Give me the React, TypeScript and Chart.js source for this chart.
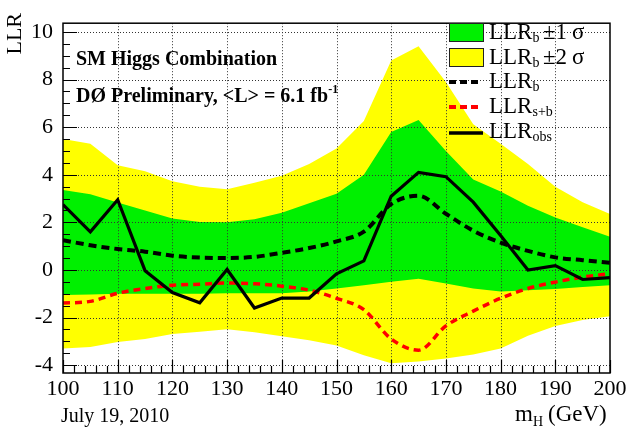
import { useEffect, useRef } from 'react';
import { Chart, registerables } from 'chart.js';

Chart.register(...registerables);

// Higgs boson mass hypotheses (GeV)
const masses = [100, 105, 110, 115, 120, 125, 130, 135, 140, 145, 150, 155, 160, 165, 170, 175, 180, 185, 190, 195, 200];

// Log-likelihood ratios
const llrObs = [2.75, 1.6, 2.95, -0.03, -0.95, -1.38, 0.02, -1.6, -1.18, -1.18, -0.16, 0.38, 3.1, 4.1, 3.92, 2.85, 1.45, 0.0, 0.18, -0.4, -0.32];
const llrB = [1.25, 1.04, 0.88, 0.77, 0.6, 0.52, 0.5, 0.55, 0.72, 0.92, 1.2, 1.61, 2.77, 3.12, 2.36, 1.65, 1.15, 0.8, 0.53, 0.41, 0.3];
const llrSB = [-1.39, -1.32, -0.98, -0.78, -0.64, -0.6, -0.55, -0.58, -0.68, -0.85, -1.19, -1.67, -2.9, -3.37, -2.35, -1.73, -1.19, -0.78, -0.51, -0.3, -0.16];

// Background-only expectation bands
const bPlus2 = [5.5, 5.3, 4.4, 4.15, 3.73, 3.5, 3.39, 3.66, 3.96, 4.45, 5.1, 6.26, 8.8, 9.4, 7.9, 6.12, 5.3, 4.45, 3.5, 2.85, 2.35];
const bPlus1 = [3.36, 3.18, 2.84, 2.5, 2.16, 2.02, 2.0, 2.13, 2.4, 2.8, 3.2, 4.0, 5.8, 6.3, 5.0, 3.8, 3.3, 2.7, 2.2, 1.8, 1.4];
const bMinus1 = [-1.05, -1.03, -1.0, -1.0, -1.0, -1.0, -0.98, -0.98, -0.98, -0.9, -0.78, -0.64, -0.5, -0.37, -0.57, -0.78, -0.9, -0.85, -0.8, -0.72, -0.64];
const bMinus2 = [-3.3, -3.24, -3.03, -2.9, -2.69, -2.6, -2.49, -2.62, -2.79, -2.95, -3.17, -3.58, -3.92, -3.85, -3.72, -3.55, -3.3, -2.76, -2.35, -2.1, -1.94];

// Axis ranges and tick positions
const xMin = 100;
const xMax = 200;
const yMin = -4.33;
const yMax = 10.37;
const xMajor = [100, 110, 120, 130, 140, 150, 160, 170, 180, 190, 200];
const yMajor = [-4, -2, 0, 2, 4, 6, 8, 10];
const xMinorStep = 2;
const yMinorStep = 0.5;

const SERIF = '"Liberation Serif", "Times New Roman", serif';
const GREEN = '#00f000';
const YELLOW = '#ffff00';
const RED = '#ff0000';

const pts = (ys: number[]) => masses.map((m, i) => ({ x: m, y: ys[i] }));

function subText(
  ctx: CanvasRenderingContext2D,
  main: string,
  sub: string,
  x: number,
  y: number,
  size: number,
  subSize: number,
  subDy: number
) {
  ctx.font = `${size}px ${SERIF}`;
  ctx.fillText(main, x, y);
  const w = ctx.measureText(main).width;
  ctx.font = `${subSize}px ${SERIF}`;
  ctx.fillText(sub, x + w, y + subDy);
  return x + w + ctx.measureText(sub).width;
}

const decorations = {
  id: 'decorations',
  beforeDatasetDraw(chart: any, args: any) {
    // dotted grid sits above the bands but below the curves
    if (args.index !== 4) return;
    const { ctx, chartArea: a, scales } = chart;
    ctx.save();
    ctx.strokeStyle = '#333';
    ctx.lineWidth = 1;
    ctx.setLineDash([1, 2]);
    ctx.beginPath();
    for (const v of xMajor) {
      if (v === xMin || v === xMax) continue;
      const px = Math.round(scales.x.getPixelForValue(v)) + 0.5;
      ctx.moveTo(px, a.top);
      ctx.lineTo(px, a.bottom);
    }
    for (const v of yMajor) {
      const py = Math.round(scales.y.getPixelForValue(v)) + 0.5;
      ctx.moveTo(a.left, py);
      ctx.lineTo(a.right, py);
    }
    ctx.stroke();
    ctx.restore();
  },
  afterDraw(chart: any) {
    const { ctx, chartArea: a, scales } = chart;
    ctx.save();

    // frame
    ctx.strokeStyle = '#000';
    ctx.lineWidth = 1.5;
    ctx.strokeRect(a.left, a.top, a.right - a.left, a.bottom - a.top);

    // inner tick marks
    ctx.lineWidth = 1.2;
    ctx.beginPath();
    for (let v = xMin; v <= xMax + 1e-9; v += xMinorStep) {
      const px = Math.round(scales.x.getPixelForValue(v)) + 0.5;
      const major = xMajor.includes(Math.round(v));
      ctx.moveTo(px, a.bottom);
      ctx.lineTo(px, a.bottom - (major ? 13 : 7));
    }
    for (let v = yMajor[0]; v <= yMajor[yMajor.length - 1] + 1e-9; v += yMinorStep) {
      const py = Math.round(scales.y.getPixelForValue(v)) + 0.5;
      const major = Math.abs(v - Math.round(v)) < 1e-6 && Math.round(v) % 2 === 0;
      ctx.moveTo(a.left, py);
      ctx.lineTo(a.left + (major ? 14 : 7), py);
    }
    ctx.stroke();

    ctx.fillStyle = '#000';
    ctx.textBaseline = 'alphabetic';
    ctx.textAlign = 'left';

    // y-axis title, rotated, aligned to the top of the axis
    ctx.save();
    ctx.translate(21, 13);
    ctx.rotate(-Math.PI / 2);
    ctx.textAlign = 'right';
    ctx.font = `22px ${SERIF}`;
    ctx.fillText('LLR', 0, 0);
    ctx.restore();

    // x-axis title
    ctx.textAlign = 'left';
    const endM = subText(ctx, 'm', 'H', 515, 421, 23, 14, 5);
    ctx.font = `23px ${SERIF}`;
    ctx.fillText('(GeV)', endM + 5, 421);

    // date stamp
    ctx.font = `20px ${SERIF}`;
    ctx.fillText('July 19, 2010', 61, 422);

    // analysis labels
    ctx.font = `bold 20px ${SERIF}`;
    ctx.fillText('SM Higgs Combination', 76, 65);
    const lumi = 'DØ Preliminary, <L> = 6.1 fb';
    ctx.fillText(lumi, 76, 102);
    const lw = ctx.measureText(lumi).width;
    ctx.font = `bold 12px ${SERIF}`;
    ctx.fillText('-1', 76 + lw, 93);

    // legend
    const sx = 449;
    const tx = 489;
    ctx.lineWidth = 1;
    ctx.strokeStyle = '#222';
    ctx.fillStyle = GREEN;
    ctx.fillRect(sx, 23, 34, 18);
    ctx.strokeRect(sx + 0.5, 23.5, 34, 18);
    ctx.fillStyle = YELLOW;
    ctx.fillRect(sx, 48, 34, 18);
    ctx.strokeRect(sx + 0.5, 48.5, 34, 18);

    ctx.lineWidth = 4;
    ctx.setLineDash([7, 4]);
    ctx.strokeStyle = '#000';
    ctx.beginPath();
    ctx.moveTo(sx, 82);
    ctx.lineTo(sx + 29, 82);
    ctx.stroke();
    ctx.strokeStyle = RED;
    ctx.beginPath();
    ctx.moveTo(sx, 107);
    ctx.lineTo(sx + 29, 107);
    ctx.stroke();
    ctx.setLineDash([]);
    ctx.lineWidth = 3.5;
    ctx.strokeStyle = '#000';
    ctx.beginPath();
    ctx.moveTo(sx, 133);
    ctx.lineTo(sx + 34, 133);
    ctx.stroke();

    ctx.fillStyle = '#000';
    const LF = 23;
    subText(ctx, 'LLR', 'b', tx, 39, LF, 14, 3);
    ctx.font = `${LF}px ${SERIF}`;
    ctx.fillText('±1', 543, 39);
    ctx.fillText('σ', 572, 39);
    subText(ctx, 'LLR', 'b', tx, 64, LF, 14, 3);
    ctx.font = `${LF}px ${SERIF}`;
    ctx.fillText('±2', 543, 64);
    ctx.fillText('σ', 572, 64);
    subText(ctx, 'LLR', 'b', tx, 88, LF, 14, 3);
    subText(ctx, 'LLR', 's+b', tx, 113, LF, 14, 3);
    subText(ctx, 'LLR', 'obs', tx, 138, LF, 14, 3);

    ctx.restore();
  },
};

export default function App() {
  const canvasRef = useRef<HTMLCanvasElement | null>(null);

  useEffect(() => {
    const canvas = canvasRef.current;
    if (!canvas) return;
    const band = (data: number[], fill: any, color: string, order: number) => ({
      data: pts(data),
      borderColor: 'transparent',
      borderWidth: 0,
      backgroundColor: color,
      pointRadius: 0,
      tension: 0,
      fill,
      order,
    });
    const chart = new Chart(canvas, {
      type: 'line',
      data: {
        datasets: [
          band(bPlus2, 1, YELLOW, 6),
          band(bMinus2, false, YELLOW, 6),
          band(bPlus1, 3, GREEN, 5),
          band(bMinus1, false, GREEN, 5),
          {
            data: pts(llrB),
            borderColor: '#000',
            borderWidth: 4,
            borderDash: [8, 5],
            pointRadius: 0,
            cubicInterpolationMode: 'monotone',
            fill: false,
            order: 3,
          },
          {
            data: pts(llrSB),
            borderColor: RED,
            borderWidth: 3.5,
            borderDash: [7, 5],
            pointRadius: 0,
            cubicInterpolationMode: 'monotone',
            fill: false,
            order: 2,
          },
          {
            data: pts(llrObs),
            borderColor: '#000',
            borderWidth: 3.2,
            pointRadius: 0,
            tension: 0,
            fill: false,
            order: 1,
          },
        ] as any,
      },
      options: {
        responsive: false,
        animation: false,
        devicePixelRatio: 1,
        layout: { padding: { left: 0, right: 20, top: 13, bottom: 0 } },
        plugins: {
          legend: { display: false },
          tooltip: { enabled: false },
        },
        scales: {
          x: {
            type: 'linear',
            min: xMin,
            max: xMax,
            grid: { display: false, drawTicks: false },
            border: { display: false },
            ticks: {
              stepSize: 10,
              color: '#000',
              padding: 3,
              maxRotation: 0,
              font: { family: SERIF, size: 22 },
            },
            afterFit: (s: any) => {
              s.height = 54;
            },
          },
          y: {
            type: 'linear',
            min: yMin,
            max: yMax,
            grid: { display: false, drawTicks: false },
            border: { display: false },
            ticks: {
              stepSize: 2,
              includeBounds: false,
              color: '#000',
              padding: 10,
              font: { family: SERIF, size: 22 },
            },
            afterFit: (s: any) => {
              s.width = 63;
            },
          },
        },
      } as any,
      plugins: [decorations],
    });
    return () => chart.destroy();
  }, []);

  return (
    <div style={{ position: 'absolute', left: 0, top: 0, width: 630, height: 427, background: '#fff' }}>
      <canvas ref={canvasRef} width={630} height={427} style={{ display: 'block' }} />
    </div>
  );
}
